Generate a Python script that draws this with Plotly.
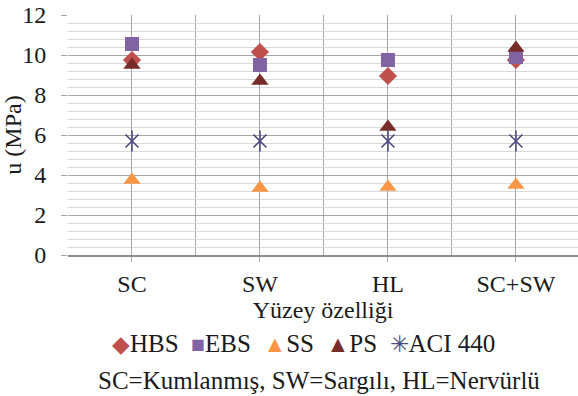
import plotly.graph_objects as go

categories = ["SC", "SW", "HL", "SC+SW"]
hbs = [9.75, 10.15, 8.95, 9.75]
ebs = [10.55, 9.5, 9.75, 9.9]
ss = [3.75, 3.35, 3.4, 3.5]
ps = [9.5, 8.7, 6.4, 10.35]
aci = [5.7, 5.7, 5.7, 5.7]
yticks = [0, 2, 4, 6, 8, 10, 12]
x_title = "Yüzey özelliği"
y_title = "u (MPa)"
caption = "SC=Kumlanmış, SW=Sargılı, HL=Nervürlü"

xpos = list(range(len(categories)))
serif = "Liberation Serif, Times New Roman, serif"

series = [
    ("HBS", hbs, "diamond", "#c0504d", 14, "◆"),
    ("EBS", ebs, "square", "#8064a2", 14, "■"),
    ("SS", ss, "triangle-up", "#f79646", 15, "▲"),
    ("PS", ps, "triangle-up", "#772c2a", 15, "▲"),
]
aci_color = "#4a4a7e"

fig = go.Figure()
for name, vals, sym, col, sz, glyph in series:
    fig.add_trace(go.Scatter(x=xpos, y=vals, mode="markers", name=name,
                             marker=dict(symbol=sym, color=col, size=sz, line=dict(width=0))))
# ACI 440: Excel-style star (X plus vertical bar)
fig.add_trace(go.Scatter(x=xpos, y=aci, mode="markers", name="ACI 440", legendgroup="aci",
                         marker=dict(symbol="x-thin-open", size=13, color=aci_color,
                                     line=dict(color=aci_color, width=1.6))))
fig.add_trace(go.Scatter(x=xpos, y=aci, mode="markers", name="ACI 440", legendgroup="aci",
                         showlegend=False,
                         marker=dict(symbol="line-ns-open", size=15, color=aci_color,
                                     line=dict(color=aci_color, width=1.6))))

fig.update_layout(
    width=578, height=396,
    margin=dict(l=68, r=0, t=15, b=141),
    plot_bgcolor="white", paper_bgcolor="white",
    font=dict(family=serif, size=24, color="#1a1a1a"),
    showlegend=False,
)

fig.update_xaxes(
    range=[-0.5, 3.485],
    tickmode="array", tickvals=xpos, ticktext=categories,
    showgrid=True, gridcolor="#a6a6a6", gridwidth=1,
    ticks="outside", ticklen=5, tickcolor="#a6a6a6",
    showline=True, linecolor="#8c8c8c", linewidth=1.5,
    zeroline=False,
    minor=dict(tickvals=[-0.5, 0.5, 1.5, 2.5, 3.5], showgrid=True, gridcolor="#a6a6a6", ticks=""),
    tickfont=dict(family=serif, size=24),
    ticklabelstandoff=1,
    title=dict(text=x_title, font=dict(family=serif, size=24), standoff=5),
)
fig.update_yaxes(
    range=[0, 12],
    tickmode="array", tickvals=yticks,
    showgrid=True, gridcolor="#a6a6a6", gridwidth=1,
    ticks="outside", ticklen=6, tickcolor="#a6a6a6",
    zeroline=False, showline=False,
    minor=dict(dtick=0.4, tick0=0, showgrid=True, gridcolor="#d9d9d9", ticks=""),
    tickfont=dict(family=serif, size=24),
    ticklabelstandoff=10,
    title=dict(text=y_title, font=dict(family=serif, size=24), standoff=2),
)

# Legend row built as text with coloured symbol glyphs
parts = []
for name, vals, sym, col, sz, glyph in series:
    parts.append(f"<span style='color:{col};font-size:23px'>{glyph}</span>{name}")
parts.append(f"<span style='color:{aci_color};font-size:23px'>✳</span>ACI 440")
fig.add_annotation(
    text="  ".join(parts),
    xref="paper", yref="paper", x=(303 - 68) / 510, xanchor="center",
    y=-(343 - 255) / 240, yanchor="middle", showarrow=False,
    font=dict(family=serif, size=25, color="#1a1a1a"),
)

fig.add_annotation(
    text=caption,
    xref="paper", yref="paper", x=(319 - 68) / 510, xanchor="center",
    y=-(380 - 255) / 240, yanchor="middle", showarrow=False,
    font=dict(family=serif, size=25, color="#1a1a1a"),
)

fig.write_html("out.html")
